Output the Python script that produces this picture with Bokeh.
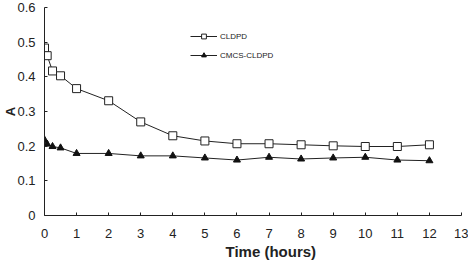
from bokeh.plotting import figure
from bokeh.models import FixedTicker, Legend, LegendItem, Title
from bokeh.embed import file_html
from bokeh.resources import INLINE

# Absorbance over time for the two formulations
time_h = [0, 0.083, 0.25, 0.5, 1, 2, 3, 4, 5, 6, 7, 8, 9, 10, 11, 12]
cldpd = [0.483, 0.461, 0.417, 0.403, 0.366, 0.331, 0.270, 0.230, 0.215, 0.207,
         0.207, 0.204, 0.201, 0.199, 0.199, 0.204]
cmcs_cldpd = [0.218, 0.206, 0.199, 0.195, 0.179, 0.179, 0.172, 0.172, 0.166,
              0.160, 0.168, 0.163, 0.166, 0.168, 0.160, 0.158]

x_ticks = list(range(0, 14))
y_ticks = [0, 0.1, 0.2, 0.3, 0.4, 0.5, 0.6]
y_tick_labels = ["0", "0.1", "0.2", "0.3", "0.4", "0.5", "0.6"]

FONT = "Liberation Sans"
INK = "#222222"

p = figure(width=468, height=268, x_range=(0, 13), y_range=(0, 0.6),
           output_backend="svg", toolbar_location=None,
           min_border_left=44, min_border_right=7, min_border_top=7,
           min_border_bottom=53)
p.outline_line_color = None
p.xgrid.visible = False
p.ygrid.visible = False

for ax in (p.xaxis[0], p.yaxis[0]):
    ax.axis_line_color = INK
    ax.major_tick_line_color = INK
    ax.major_tick_in = 3
    ax.major_tick_out = 0
    ax.minor_tick_line_color = None
    ax.major_label_text_font = FONT
    ax.major_label_text_font_size = "13px"
    ax.major_label_text_color = INK

p.xaxis.ticker = FixedTicker(ticks=x_ticks)
p.xaxis.major_label_standoff = 13
p.yaxis.ticker = FixedTicker(ticks=y_ticks)
p.yaxis.major_label_overrides = {t: s for t, s in zip(y_ticks, y_tick_labels)}
p.yaxis.major_label_standoff = 9

p.yaxis.axis_label = "A"
p.yaxis.axis_label_text_font = FONT
p.yaxis.axis_label_text_font_size = "13px"
p.yaxis.axis_label_text_font_style = "bold"
p.yaxis.axis_label_text_color = INK
p.yaxis.axis_label_standoff = -4

# x-axis title, placed a little right of centre
p.add_layout(Title(text="Time (hours)", align="left", offset=181,
                   text_font=FONT, text_font_size="15px",
                   text_font_style="bold", text_color=INK, standoff=0),
             "below")

l1 = p.line(time_h, cldpd, line_color=INK, line_width=1)
m1 = p.scatter(time_h, cldpd, marker="square", size=8, fill_color="white",
               line_color=INK, line_width=1)
l2 = p.line(time_h, cmcs_cldpd, line_color=INK, line_width=1)
m2 = p.scatter(time_h, cmcs_cldpd, marker="triangle", size=7,
               fill_color="#111111", line_color="#111111")

legend = Legend(items=[LegendItem(label="CLDPD", renderers=[l1, m1]),
                       LegendItem(label="CMCS-CLDPD", renderers=[l2, m2])],
                location=(146, 154), padding=0, margin=0, spacing=7,
                glyph_width=27, glyph_height=12, label_standoff=3,
                label_text_font=FONT, label_text_font_size="8px",
                label_text_color=INK, border_line_color=None,
                background_fill_alpha=0)
p.add_layout(legend)

open("out.html", "w").write(file_html(p, INLINE))
